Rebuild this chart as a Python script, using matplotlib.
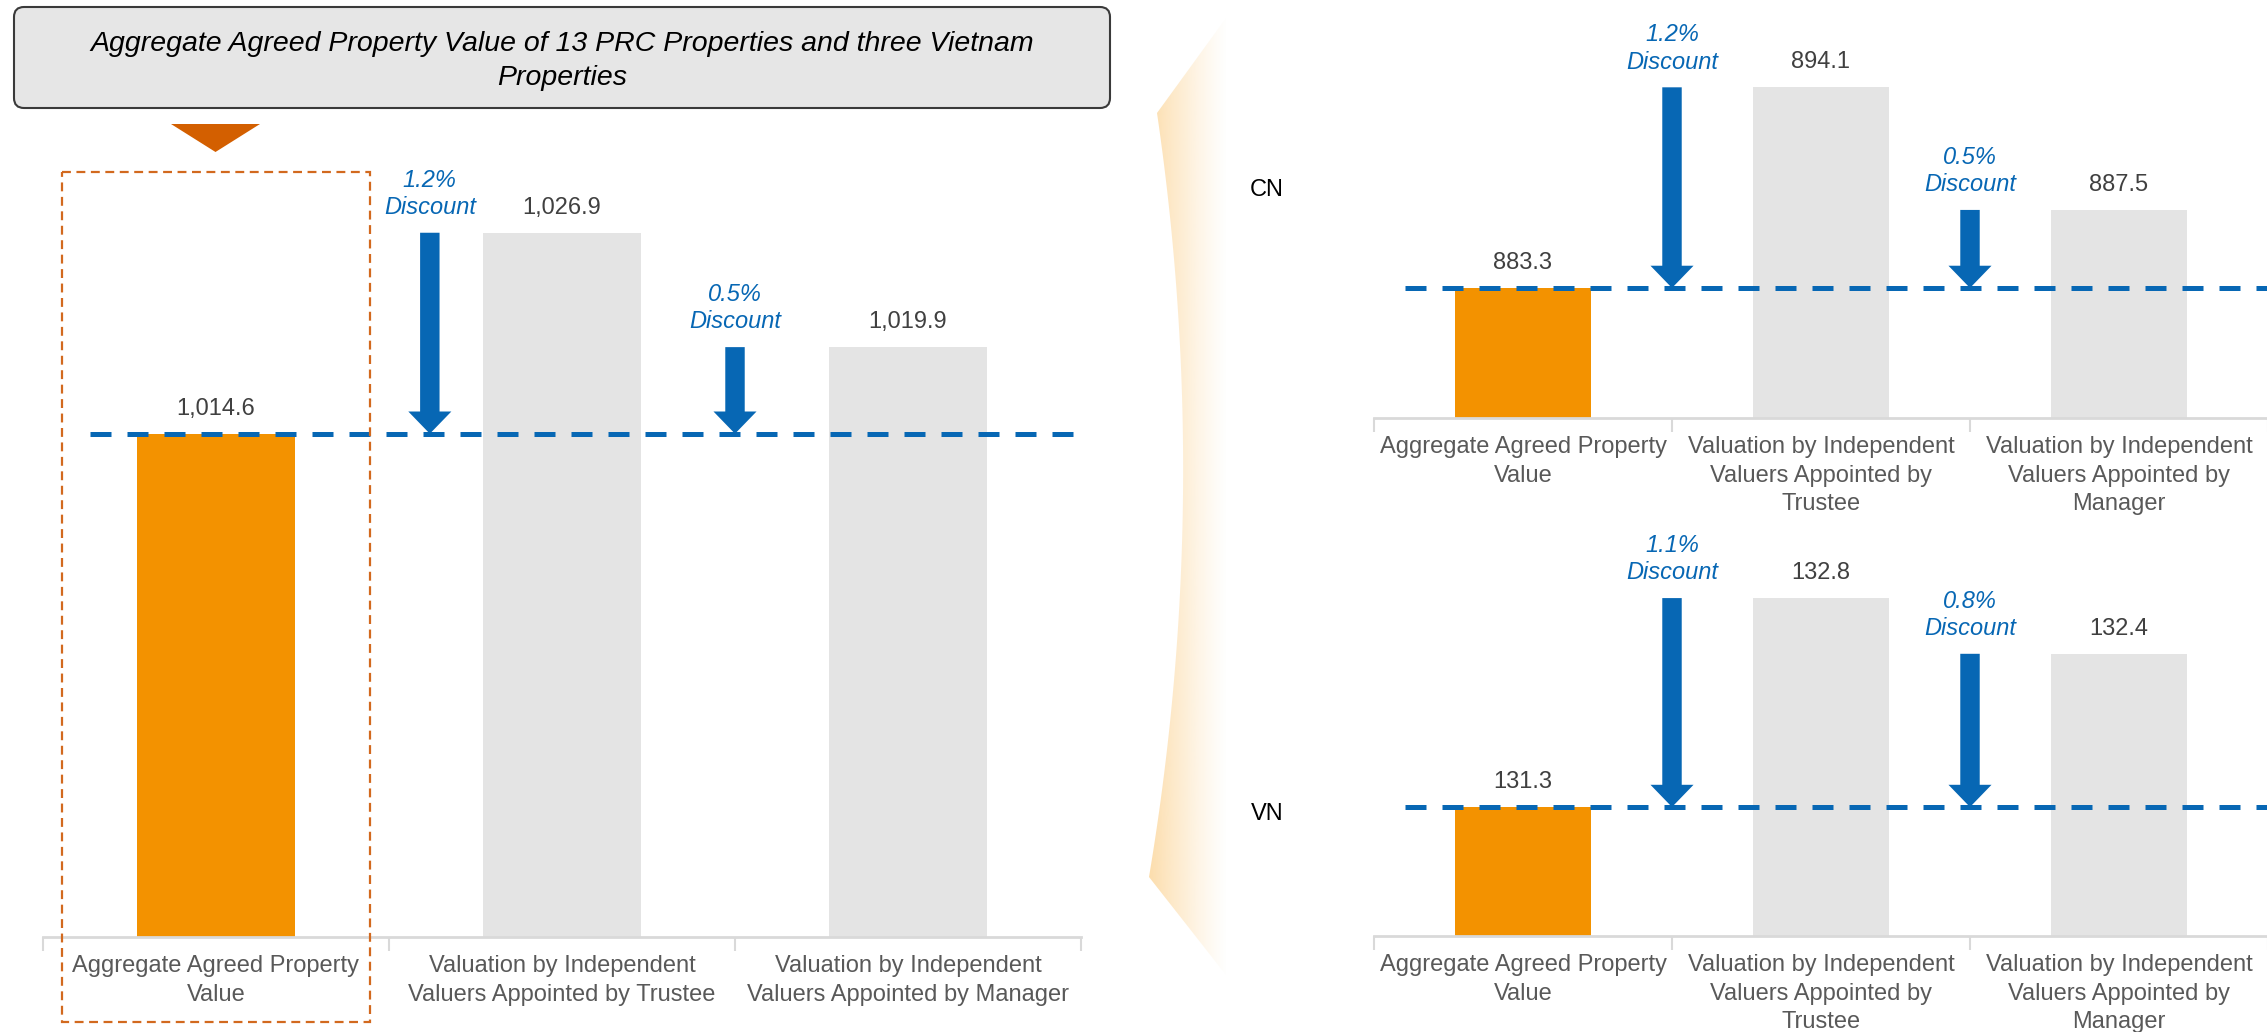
import numpy as np
import matplotlib
matplotlib.use('Agg')
import matplotlib.pyplot as plt
from matplotlib.patches import FancyBboxPatch, Polygon, Rectangle

plt.rcParams['font.family'] = ['Liberation Sans', 'DejaVu Sans']

# ---------------------------------------------------------------- data
title = 'Aggregate Agreed Property Value of 13 PRC Properties and three Vietnam\nProperties'
labels_left = ['Aggregate Agreed Property\nValue',
               'Valuation by Independent\nValuers Appointed by Trustee',
               'Valuation by Independent\nValuers Appointed by Manager']
labels_right = ['Aggregate Agreed Property\nValue',
                'Valuation by Independent\nValuers Appointed by\nTrustee',
                'Valuation by Independent\nValuers Appointed by\nManager']
total_values = [1014.6, 1026.9, 1019.9]
cn_values = [883.3, 894.1, 887.5]
vn_values = [131.3, 132.8, 132.4]
total_disc = ['1.2%', '0.5%']
cn_disc = ['1.2%', '0.5%']
vn_disc = ['1.1%', '0.8%']

ORANGE = '#F39200'
GREY = '#E4E4E4'
BLUE = '#0767B4'
W, H = 2267, 1032

fig = plt.figure(figsize=(W / 100, H / 100), dpi=100)


def fpos(x0, y_top, x1, y_bot):
    # pixel box (top-left origin) -> figure fraction
    return [x0 / W, 1 - y_bot / H, (x1 - x0) / W, (y_bot - y_top) / H]


def panel(rect, values, discounts, labels, ylim, arrow_x, line_from):
    ax = fig.add_axes(rect)
    x = np.arange(len(values))
    colors = [ORANGE] + [GREY] * (len(values) - 1)
    ax.bar(x, values, width=0.455, color=colors, zorder=1)
    ax.set_xlim(-0.5, len(values) - 0.5)
    ax.set_ylim(*ylim)
    for s in ['top', 'left', 'right']:
        ax.spines[s].set_visible(False)
    ax.spines['bottom'].set_color('#D9D9D9')
    ax.spines['bottom'].set_linewidth(2)
    ax.set_yticks([])
    ax.set_xticks(x)
    ax.set_xticklabels(labels, fontsize=17, color='#595959', linespacing=1.38)
    ax.tick_params(axis='x', which='major', length=0, pad=13)
    ax.set_xticks(np.arange(len(values) + 1) - 0.5, minor=True)
    ax.tick_params(axis='x', which='minor', length=10, width=1.5, color='#D9D9D9')

    base = values[0]
    ax.axhline(base, xmin=line_from, xmax=1.0, color=BLUE, lw=3.6,
               dashes=(4.2, 3.2), zorder=3, clip_on=False)

    for xi, v in zip(x, values):
        ax.annotate(f'{v:,.1f}', (xi, v), xytext=(0, 18), textcoords='offset points',
                    ha='center', va='center', fontsize=17, color='#404040',
                    annotation_clip=False)

    for ax_x, top, d in zip(arrow_x, values[1:], discounts):
        ax.annotate('', xy=(ax_x, base), xytext=(ax_x, top),
                    arrowprops=dict(arrowstyle='simple,head_length=16,head_width=31,tail_width=14',
                                    mutation_scale=1, shrinkA=0, shrinkB=0,
                                    fc=BLUE, ec='none'), zorder=4, annotation_clip=False)
        ax.annotate(f'{d}\nDiscount', (ax_x, top), xytext=(0, 28), textcoords='offset points',
                    ha='center', va='center', fontsize=17, color=BLUE, style='italic',
                    linespacing=1.25, annotation_clip=False)
    return ax


# left: all properties
panel(fpos(43, 120, 1081, 937), total_values, total_disc, labels_left,
      (983.8, 1033.8), [0.618, 1.5], 0.045)

# right: CN
panel(fpos(1374, 0, 2268, 418), cn_values, cn_disc, labels_right,
      (876.3, 898.8), [0.5, 1.5], 0.035)

# right: VN
panel(fpos(1374, 540, 2268, 936), vn_values, vn_disc, labels_right,
      (130.374, 133.217), [0.5, 1.5], 0.035)

# ---------------------------------------------------------------- overlay
ov = fig.add_axes([0, 0, 1, 1], zorder=5)
ov.set_xlim(0, W)
ov.set_ylim(H, 0)
ov.axis('off')
ov.patch.set_alpha(0)

box = FancyBboxPatch((14, 7), 1096, 101, boxstyle='round,pad=0,rounding_size=10',
                     fc='#E6E6E6', ec='#3A3A3A', lw=1.5)
ov.add_patch(box)
ov.text(562, 61, title, ha='center', va='center', fontsize=20.5, style='italic',
        color='black', linespacing=1.4)

ov.add_patch(Polygon([[171, 124], [260, 124], [215.5, 152]], closed=True,
                     fc='#D35F00', ec='none'))
ov.add_patch(Rectangle((62, 172), 308, 850, fill=False, ec='#D2691E', lw=1.6,
                       ls=(0, (4, 2.5))))

ov.text(1267, 190, 'CN', ha='center', va='center', fontsize=17, color='black')
ov.text(1267, 814, 'VN', ha='center', va='center', fontsize=17, color='black')

# curved gradient bracket
t = np.linspace(0, 1, 60)
p0, c, p2 = np.array([1157, 113]), np.array([1213, 495]), np.array([1149, 877])
curve = ((1 - t) ** 2)[:, None] * p0 + (2 * (1 - t) * t)[:, None] * c + (t ** 2)[:, None] * p2
verts = np.vstack([[[1226, 18]], curve, [[1226, 975]]])
clip = Polygon(verts, closed=True, fc='none', ec='none')
ov.add_patch(clip)
grad = np.linspace(0, 1, 256)[None, :]
rgba = np.zeros((1, 256, 4))
rgba[..., 0] = 251 / 255
rgba[..., 1] = 200 / 255
rgba[..., 2] = 120 / 255
rgba[..., 3] = 0.65 * (1 - grad) ** 1.2
img = ov.imshow(rgba, extent=(1145, 1228, 980, 15), aspect='auto', zorder=1)
img.set_clip_path(clip)
ov.set_xlim(0, W)
ov.set_ylim(H, 0)

fig.savefig('out.png', dpi=100)
